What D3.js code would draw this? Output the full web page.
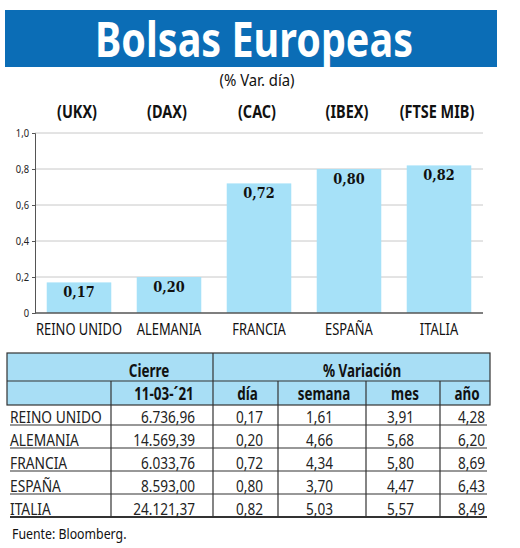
<!DOCTYPE html>
<html>
<head>
<meta charset="utf-8">
<script src="https://cdn.jsdelivr.net/npm/d3@7"></script>
<style>
  body { margin: 0; background: #fff; }
  svg text { font-family: "Noto Sans", "Open Sans", sans-serif; }
</style>
</head>
<body>
<div id="chart"></div>
<script>
// data
const categories = ["REINO UNIDO", "ALEMANIA", "FRANCIA", "ESPAÑA", "ITALIA"];
const indices = ["(UKX)", "(DAX)", "(CAC)", "(IBEX)", "(FTSE MIB)"];
const cierre = [6736.96, 14569.39, 6033.76, 8593.00, 24121.37];
const dia = [0.17, 0.20, 0.72, 0.80, 0.82];
const semana = [1.61, 4.66, 4.34, 3.70, 5.03];
const mes = [3.91, 5.68, 5.80, 4.47, 5.57];
const anio = [4.28, 6.20, 8.69, 6.43, 8.49];
const yTicks = [0, 0.2, 0.4, 0.6, 0.8, 1.0];
const fecha = "11-03-´21";

const es = d3.formatLocale({ decimal: ",", thousands: ".", grouping: [3], currency: ["", "€"] });
const f2 = es.format(",.2f");
const f1 = es.format(".1f");

const width = 520, height = 548;
const svg = d3.select("#chart").append("svg")
  .attr("width", width)
  .attr("height", height);

// squeeze text horizontally, the original uses a condensed face
function condense(sel, k) {
  sel.each(function() {
    const w = this.getComputedTextLength();
    if (w > 0) {
      this.setAttribute("textLength", w * k);
      this.setAttribute("lengthAdjust", "spacingAndGlyphs");
    }
  });
}

// title banner
svg.append("rect")
  .attr("x", 5).attr("y", 10)
  .attr("width", 492).attr("height", 57)
  .attr("fill", "#0b6db6");
svg.append("text")
  .text("Bolsas Europeas")
  .attr("x", 254).attr("y", 57)
  .attr("text-anchor", "middle")
  .attr("fill", "#fff")
  .attr("font-weight", "bold")
  .attr("font-size", 49)
  .attr("textLength", 318)
  .attr("lengthAdjust", "spacingAndGlyphs");

svg.append("text")
  .text("(% Var. día)")
  .attr("x", 257).attr("y", 86)
  .attr("text-anchor", "middle")
  .attr("font-size", 16)
  .attr("fill", "#111")
  .call(condense, 0.93);

// bar chart
const x = d3.scaleBand().domain(categories).range([34, 484]).paddingInner(0.283).paddingOuter(0.1415);
const y = d3.scaleLinear().domain([0, 1]).range([313, 133]);

// grid
svg.append("g").selectAll("line")
  .data(yTicks.slice(1))
  .join("line")
    .attr("x1", 35).attr("x2", 483)
    .attr("y1", d => y(d)).attr("y2", d => y(d))
    .attr("stroke", "#c8c8c8");

const yAxis = svg.append("g")
  .attr("transform", "translate(35,0)")
  .call(d3.axisLeft(y).tickValues(yTicks).tickSize(3).tickFormat(d => d === 0 ? "0" : f1(d)));
yAxis.select(".domain").attr("stroke", "#555");
yAxis.selectAll(".tick line").attr("stroke", "#555");
yAxis.selectAll(".tick text")
  .attr("font-size", 11).attr("fill", "#222")
  .attr("font-family", "\"Noto Sans\", sans-serif")
  .call(condense, 0.85);

svg.append("g").selectAll("rect")
  .data(categories)
  .join("rect")
    .attr("x", d => x(d))
    .attr("width", x.bandwidth())
    .attr("y", (d, i) => y(dia[i]))
    .attr("height", (d, i) => y(0) - y(dia[i]))
    .attr("fill", "#a6e1f8");

// x baseline
svg.append("line")
  .attr("x1", 35).attr("x2", 483)
  .attr("y1", y(0)).attr("y2", y(0))
  .attr("stroke", "#555").attr("stroke-width", 1.5);

// value labels
svg.append("g").selectAll("text")
  .data(categories)
  .join("text")
    .text((d, i) => f2(dia[i]))
    .attr("x", d => x(d) + x.bandwidth() / 2)
    .attr("y", (d, i) => y(dia[i]) + 15)
    .attr("text-anchor", "middle")
    .attr("font-weight", "bold")
    .attr("font-size", 15)
    .style("font-family", "\"DejaVu Serif\", serif")
    .attr("fill", "#111")
    .call(condense, 0.86);

// category labels
svg.append("g").selectAll("text")
  .data(categories)
  .join("text")
    .text(d => d)
    .attr("x", d => x(d) + x.bandwidth() / 2)
    .attr("y", 335)
    .attr("text-anchor", "middle")
    .attr("font-size", 17)
    .attr("fill", "#111")
    .call(condense, 0.76);

// index labels
svg.append("g").selectAll("text")
  .data(indices)
  .join("text")
    .text(d => d)
    .attr("x", (d, i) => x(categories[i]) + x.bandwidth() / 2 - 2)
    .attr("y", 118)
    .attr("text-anchor", "middle")
    .attr("font-weight", "bold")
    .attr("font-size", 17)
    .attr("fill", "#111")
    .call(condense, 0.85);

// table
const colEdges = [7, 111, 213, 278, 366, 440, 490];
const numRight = [195, 263, 333, 414, 485];
const headTop = 353, headMid = 381, headBot = 405, rowH = 23;
const lineCol = "#333";

svg.append("rect")
  .attr("x", colEdges[0]).attr("y", headTop)
  .attr("width", colEdges[6] - colEdges[0]).attr("height", headBot - headTop)
  .attr("fill", "#a8def5").attr("stroke", lineCol).attr("stroke-width", 1.2);
svg.append("line")
  .attr("x1", colEdges[0]).attr("x2", colEdges[6])
  .attr("y1", headMid).attr("y2", headMid)
  .attr("stroke", lineCol).attr("stroke-width", 1.2);
svg.append("line")
  .attr("x1", colEdges[2]).attr("x2", colEdges[2])
  .attr("y1", headTop).attr("y2", headMid)
  .attr("stroke", lineCol).attr("stroke-width", 1.2);
svg.append("g").selectAll("line")
  .data(colEdges.slice(1, 6))
  .join("line")
    .attr("x1", d => d).attr("x2", d => d)
    .attr("y1", headMid).attr("y2", headBot)
    .attr("stroke", lineCol).attr("stroke-width", 1.2);

const headStyle = sel => sel.attr("font-weight", "bold").attr("font-size", 17).attr("fill", "#111").attr("text-anchor", "middle");
svg.append("text").text("Cierre").attr("x", 149).attr("y", 377).call(headStyle).call(condense, 0.79);
svg.append("text").text("% Variación").attr("x", 362).attr("y", 377).call(headStyle).call(condense, 0.79);
const subHeads = ["", fecha, "día", "semana", "mes", "año"];
svg.append("g").selectAll("text")
  .data(subHeads)
  .join("text")
    .text(d => d)
    .attr("x", (d, i) => (colEdges[i] + colEdges[i + 1]) / 2 + 2)
    .attr("y", 400)
    .call(headStyle)
    .call(condense, 0.79);

// body rows
const rowLines = categories.map((d, i) => headBot + rowH * (i + 1) - 3);
svg.append("g").selectAll("line")
  .data(rowLines)
  .join("line")
    .attr("x1", 10).attr("x2", 487)
    .attr("y1", d => d).attr("y2", d => d)
    .attr("stroke", lineCol).attr("stroke-width", (d, i) => i === 4 ? 2 : 1.2);
svg.append("g").selectAll("line")
  .data(colEdges.slice(1, 6))
  .join("line")
    .attr("x1", d => d).attr("x2", d => d)
    .attr("y1", headBot).attr("y2", rowLines[4])
    .attr("stroke", lineCol).attr("stroke-width", 1.2);

const cols = [cierre, dia, semana, mes, anio];
const body = svg.append("g").selectAll("g")
  .data(categories)
  .join("g")
    .attr("transform", (d, i) => `translate(0,${rowLines[i] - 2})`);
body.append("text")
  .text(d => d)
  .attr("x", 10)
  .attr("font-size", 17)
  .attr("fill", "#222")
  .call(condense, 0.81);
cols.forEach((col, c) => {
  body.append("text")
    .text((d, i) => f2(col[i]))
    .attr("x", numRight[c])
    .attr("text-anchor", "end")
    .attr("font-size", 17)
    .attr("fill", "#222")
    .call(condense, 0.8);
});

svg.append("text")
  .text("Fuente: Bloomberg.")
  .attr("x", 12).attr("y", 539)
  .attr("font-size", 14)
  .attr("fill", "#111")
  .call(condense, 0.88);
</script>
</body>
</html>
